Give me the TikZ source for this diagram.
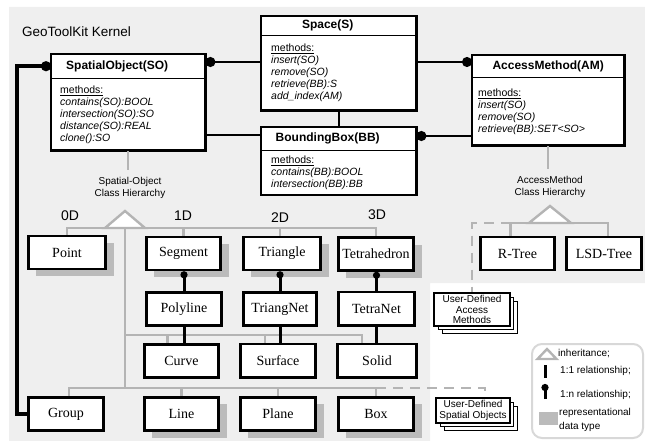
\documentclass[tikz,border=0pt]{standalone}
\usepackage{fontspec}
\setmainfont{Liberation Serif}
\setsansfont{Liberation Sans}
\usetikzlibrary{arrows.meta,shadows}

\definecolor{bggray}{HTML}{EFEFEF}
\definecolor{hiergray}{HTML}{B4B4B4}
\definecolor{shgray}{HTML}{BBBBBB}
\definecolor{legborder}{HTML}{D8D8D8}

\tikzset{
  pics/inhtri/.style 2 args={code={
    \draw[hier, fill=white, line join=miter] (-#1,0) -- (0,-#2) -- (#1,0) -- cycle;}}
}

\begin{document}
\begin{tikzpicture}[x=1pt,y=-1pt,
  clshead/.style={anchor=north west, fill=white, inner sep=0pt,
    font=\sffamily\bfseries\fontsize{12}{14}\selectfont},
  clsbody/.style={anchor=north west, fill=white, inner xsep=9pt, inner ysep=0pt,
    align=left, font=\sffamily\itshape\fontsize{10.5}{12}\selectfont},
  clsframe/.style={draw=black, line width=2.6pt},
  clssep/.style={draw=black, line width=1.2pt},
  rel/.style={draw=black, line width=2pt},
  relstrong/.style={draw=black, line width=3.4pt},
  linkthick/.style={draw=black, line width=3pt},
  manydot/.style={-{Circle[length=10pt,width=10pt]}},
  smalldot/.style={-{Circle[length=7pt,width=7pt]}},
  obj/.style={draw=black, line width=2.6pt, fill=white, minimum height=33pt,
    inner sep=0pt, font=\fontsize{14}{16}\selectfont},
  rdt/.style={obj, general shadow={fill=shgray, shadow xshift=8pt, shadow yshift=-7pt}},
  hier/.style={draw=hiergray, line width=2.4pt},
  hierdash/.style={hier, dash pattern=on 10pt off 7pt},
  smalltxt/.style={font=\sffamily\fontsize{10}{11.5}\selectfont, align=center, inner sep=0pt},
  dimtxt/.style={font=\sffamily\fontsize{14}{16}\selectfont, inner sep=0pt},
  legtxt/.style={font=\sffamily\fontsize{10}{13.5}\selectfont, inner sep=0pt, anchor=west, align=left},
  userdef/.style={draw=black, line width=2.4pt, fill=white, inner sep=0pt,
    font=\sffamily\fontsize{10}{10.5}\selectfont, align=center,
    general shadow={draw=black, fill=white, line width=1pt, shadow xshift=8pt, shadow yshift=-8pt},
    general shadow={draw=black, fill=white, line width=1pt, shadow xshift=4pt, shadow yshift=-4pt}},
]
\useasboundingbox (0,0) rectangle (645,441);

% kernel area
\fill[bggray] (9,7) -- (645,7) -- (645,283) -- (430,283) -- (430,441) -- (9,441) -- cycle;
\node[anchor=west, inner sep=0pt, font=\sffamily\fontsize{13.5}{16}\selectfont] (title) at (22,32) {GeoToolKit Kernel};

% ---------- kernel classes ----------
\node[clshead, minimum width=154pt, minimum height=24pt] (soh) at (51,54) {SpatialObject(SO)\hspace*{22pt}};
\node[clsbody, text width=136pt, minimum height=72pt] (sob) at (soh.south west)
  {\textup{\underline{methods:}}\\contains(SO):BOOL\\intersection(SO):SO\\distance(SO):REAL\\clone():SO};
\draw[clsframe] (soh.north west) rectangle (sob.south east);
\draw[clssep] (soh.south west) -- (soh.south east);

\node[clshead, minimum width=155pt, minimum height=19pt] (sph) at (261,16) {Space(S)\hspace*{22pt}};
\node[clsbody, inner xsep=10pt, text width=135pt, minimum height=75pt] (spb) at (sph.south west)
  {\textup{\underline{methods:}}\\insert(SO)\\remove(SO)\\retrieve(BB):S\\add\_index(AM)};
\draw[clsframe] (sph.north west) rectangle (spb.south east);
\draw[clssep] (sph.south west) -- (sph.south east);

\node[clshead, minimum width=152pt, minimum height=22pt] (amh) at (472,55) {AccessMethod(AM)};
\node[clsbody, inner xsep=6pt, text width=140pt, minimum height=68pt] (amb) at (amh.south west)
  {\textup{\underline{methods:}}\\insert(SO)\\remove(SO)\\retrieve(BB):SET<SO>\\[4pt]};
\draw[clsframe] (amh.north west) rectangle (amb.south east);
\draw[clssep] (amh.south west) -- (amh.south east);

\node[clshead, minimum width=155pt, minimum height=23pt] (bbh) at (261,127) {BoundingBox(BB)\hspace*{22pt}};
\node[clsbody, inner xsep=10pt, text width=135pt, minimum height=44pt] (bbb) at (bbh.south west)
  {\textup{\underline{methods:}}\\contains(BB):BOOL\\intersection(BB):BB};
\draw[clsframe] (bbh.north west) rectangle (bbb.south east);
\draw[clssep] (bbh.south west) -- (bbh.south east);

% ---------- kernel relationships ----------
\draw[rel, manydot] (spb.west |- 0,62) -- (soh.east |- 0,62);
\draw[rel, manydot] (spb.east |- 0,62) -- (amh.west |- 0,62);
\draw[rel] (spb.south) -- (bbh.north);
\draw[rel] (sob.east |- 0,135) -- (bbh.west |- 0,135);
\draw[rel, manydot] (amb.west |- 0,136) -- (bbh.east |- 0,136);

% ---------- spatial object classes ----------
\node[rdt, minimum width=77.4pt] (point)    at (67,252.5)    {Point};
\node[rdt, minimum width=74.4pt] (segment)  at (183.5,253.5) {Segment};
\node[rdt, minimum width=77.4pt] (triangle) at (282,253.5)   {Triangle};
\node[rdt, minimum width=75.4pt] (tetra)    at (376,254)     {Tetrahedron};

\node[obj, minimum width=75.4pt, minimum height=33.4pt] (polyline) at (184,309)   {Polyline};
\node[obj, minimum width=73.4pt, minimum height=33.4pt] (trinet)   at (280,309)   {TriangNet};
\node[obj, minimum width=76.4pt, minimum height=33.4pt] (tetranet) at (376.5,308.5) {TetraNet};

\node[obj, minimum width=74.4pt, minimum height=33.4pt] (curve)   at (181.5,361) {Curve};
\node[obj, minimum width=75.4pt, minimum height=33.4pt] (surface) at (278,360.5) {Surface};
\node[obj, minimum width=79.4pt, minimum height=33.4pt] (solid)   at (377,360.5) {Solid};

\node[obj, minimum width=75.4pt, minimum height=33.4pt] (group)   at (66,414)    {Group};
\node[rdt, minimum width=74.4pt, minimum height=33.4pt] (lineobj) at (181.5,414) {Line};
\node[rdt, minimum width=75.4pt, minimum height=33.4pt] (plane)   at (278,414)   {Plane};
\node[rdt, minimum width=75.4pt, minimum height=33.4pt] (boxobj)  at (376,414)   {Box};

\node[userdef, minimum width=73.6pt, minimum height=24.6pt] (usso) at (473,410.5) {User-Defined\\Spatial Objects};

% spatial object hierarchy
\node[smalltxt] (soclass) at (130,188) {Spatial-Object\\Class Hierarchy};
\draw[hier, shorten >=7pt] (sob.south) -- (sob.south |- soclass.north);
\coordinate (sofork) at (125,228);
\draw[hier] (point.north) -- (point.north |- sofork) -- (tetra.north |- sofork) -- (tetra.north);
\draw[hier] (segment.north) -- (segment.north |- sofork);
\draw[hier] ([xshift=-2pt]triangle.north) -- ([xshift=-2pt]triangle.north |- sofork);
\draw[hier] (sofork) -- (sofork |- 0,388);
\draw[hier] (sofork |- 0,335) -| ([xshift=-15pt]solid.north);
\draw[hier] ([xshift=-14pt]curve.north) -- ([xshift=-14pt]curve.north |- 0,335);
\draw[hier] ([xshift=-13pt]surface.north) -- ([xshift=-13pt]surface.north |- 0,335);
\draw[hier] ([xshift=3pt]group.north) -- ([xshift=3pt]group.north |- 0,388) -- (boxobj.north |- 0,388) -- (boxobj.north);
\draw[hier] (lineobj.north) -- (lineobj.north |- 0,388);
\draw[hier] (plane.north) -- (plane.north |- 0,388);
\draw[hierdash] (boxobj.north |- 0,388) -| ([xshift=12pt]usso.north);
\pic at (sofork) {inhtri={20}{17}};

\node[dimtxt] (d0) at (70,216) {0D};
\node[dimtxt] (d1) at (183,216) {1D};
\node[dimtxt] (d2) at (280,218) {2D};
\node[dimtxt] (d3) at (377,215) {3D};

% representation links
\draw[linkthick, smalldot] (polyline.north) -- (polyline.north |- segment.south);
\draw[linkthick, smalldot] (trinet.north) -- (trinet.north |- triangle.south);
\draw[linkthick, smalldot] (tetranet.north) -- (tetranet.north |- tetra.south);
\draw[linkthick] (polyline.south) -- (polyline.south |- curve.north);
\draw[linkthick] (trinet.south) -- (trinet.south |- surface.north);
\draw[linkthick] (tetranet.south) -- (tetranet.south |- solid.north);

% group aggregates spatial objects
\draw[relstrong, manydot] (group.west) -- (17,0 |- group.west) |- (soh.west);

% ---------- access method hierarchy ----------
\node[obj, minimum width=74.4pt] (rtree) at (517.5,253.5) {R-Tree};
\node[obj, minimum width=75.4pt] (lsd)   at (604,253.5)   {LSD-Tree};
\node[userdef, minimum width=75.6pt, minimum height=32.6pt] (usam) at (472,309.5) {User-Defined\\Access\\Methods};

\node[smalltxt] (amclass) at (550,187) {AccessMethod\\Class Hierarchy};
\draw[hier, shorten >=7pt] (amb.south) -- (amb.south |- amclass.north);
\coordinate (amfork) at (550,223);
\draw[hier] ([xshift=-7pt]rtree.north) -- ([xshift=-7pt]rtree.north |- amfork) -- ([xshift=4pt]lsd.north |- amfork) -- ([xshift=4pt]lsd.north);
\draw[hierdash] ([xshift=-7pt]rtree.north |- amfork) -| (usam.north);
\pic at (amfork) {inhtri={21}{17}};

% ---------- legend ----------
\node[draw=legborder, line width=2pt, rounded corners=10pt, anchor=north west,
  minimum width=111pt, minimum height=94pt, inner sep=0pt] (legend) at (531,343) {};
\pic at (547,359) {inhtri={9.5}{10}};
\node[legtxt] (leginh) at (558,354) {inheritance;};
\draw[line width=3pt] (545,365) -- (545,378);
\node[legtxt] (leg11) at (560,371) {1:1 relationship;};
\draw[line width=3pt, smalldot] (545,399) -- (545,384);
\node[legtxt] (leg1n) at (560,395) {1:n relationship;};
\fill[shgray] (539,412) rectangle (558,425);
\node[legtxt] (legrdt) at (559,420) {representational\\data type};
\end{tikzpicture}
\end{document}
